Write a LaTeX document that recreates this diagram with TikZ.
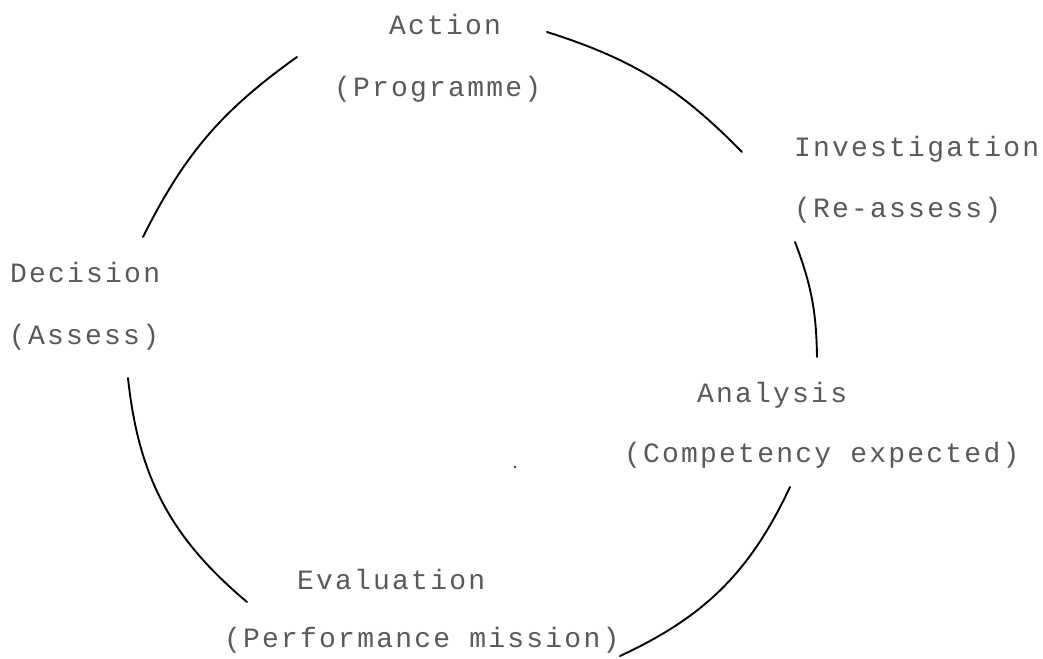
\documentclass[tikz,border=0pt]{standalone}
\usepackage{fontspec}
\newfontfamily\dotfont{Liberation Mono}[LetterSpace=8]
\definecolor{labelgray}{gray}{0.35}
\tikzset{
  lbl/.style={anchor=base west, inner sep=0pt, outer sep=0pt,
              font=\dotfont\fontsize{28pt}{28pt}\selectfont, text=labelgray},
  cyclearc/.style={draw=black, line width=1.9pt, line cap=round}
}
\begin{document}
\begin{tikzpicture}[x=1pt,y=1pt]
\useasboundingbox (0,0) rectangle (1043,658);

% stage labels
\node[lbl] (act)  at (389,623) {Action};
\node[lbl] (prog) at (334,561) {(Programme)};
\node[lbl] (inv)  at (794,501) {Investigation};
\node[lbl] (reas) at (794,440) {(Re-assess)};
\node[lbl] (ana)  at (697,255) {Analysis};
\node[lbl] (comp) at (624,195) {(Competency expected)};
\node[lbl] (eva)  at (297,68)  {Evaluation};
\node[lbl] (perf) at (224,11)  {(Performance mission)};
\node[lbl] (dec)  at (10,375)  {Decision};
\node[lbl] (ass)  at (9,313)   {(Assess)};

% arc end points
\coordinate (a1s) at (547,626); \coordinate (a1e) at (742,506);
\coordinate (a2s) at (795,416); \coordinate (a2e) at (817,301);
\coordinate (a3s) at (790,171); \coordinate (a3e) at (620,2);
\coordinate (a4s) at (247,56);  \coordinate (a4e) at (128,280);
\coordinate (a5s) at (143,421); \coordinate (a5e) at (297,601);

% the cycle
\draw[cyclearc] (a1s) to[bend left=14] (a1e);
\draw[cyclearc] (a2s) to[bend left=10] (a2e);
\draw[cyclearc] (a3s) to[bend left=20] (a3e);
\draw[cyclearc] (a4s) to[bend left=22] (a4e);
\draw[cyclearc] (a5s) to[bend left=14] (a5e);

% small speck
\fill[black] (515,191) circle (1.2);
\end{tikzpicture}
\end{document}
